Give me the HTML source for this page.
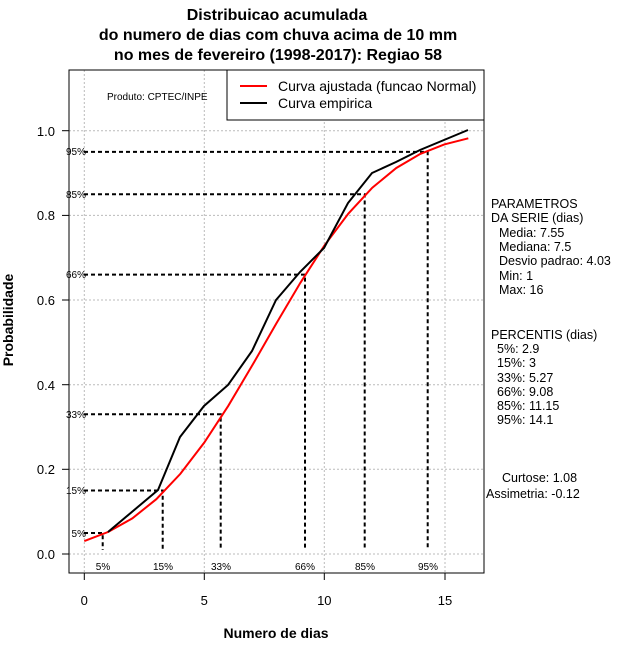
<!DOCTYPE html>
<html><head><style>body{margin:0;background:#fff}svg{display:block}</style></head><body>
<svg width="640" height="660" xmlns="http://www.w3.org/2000/svg" font-family="Liberation Sans, sans-serif">
<rect width="640" height="660" fill="#fff"/>
<g font-weight="bold" font-size="16" text-anchor="middle">
<text x="277" y="20">Distribuicao acumulada</text>
<text x="278" y="40">do numero de dias com chuva acima de 10 mm</text>
<text x="278" y="60">no mes de fevereiro (1998-2017): Regiao 58</text>
<text x="276" y="638" font-size="14">Numero de dias</text>
<text transform="translate(13,320) rotate(-90)" font-size="14">Probabilidade</text>
</g>
<g stroke="#bbb" stroke-dasharray="2,2" stroke-width="1">
<line x1="84.3" y1="70" x2="84.3" y2="573"/><line x1="204.3" y1="70" x2="204.3" y2="573"/>
<line x1="324.3" y1="70" x2="324.3" y2="573"/><line x1="445" y1="70" x2="445" y2="573"/>
<line x1="69" y1="554" x2="484" y2="554"/><line x1="69" y1="469.3" x2="484" y2="469.3"/>
<line x1="69" y1="384.7" x2="484" y2="384.7"/><line x1="69" y1="300" x2="484" y2="300"/>
<line x1="69" y1="215.4" x2="484" y2="215.4"/><line x1="69" y1="130.7" x2="484" y2="130.7"/>
</g>
<rect x="69" y="70" width="415" height="503" fill="none" stroke="#000"/>
<g stroke="#000">
<line x1="62" y1="554" x2="69" y2="554"/><line x1="62" y1="469.3" x2="69" y2="469.3"/>
<line x1="62" y1="384.7" x2="69" y2="384.7"/><line x1="62" y1="300" x2="69" y2="300"/>
<line x1="62" y1="215.4" x2="69" y2="215.4"/><line x1="62" y1="130.7" x2="69" y2="130.7"/>
<line x1="84.3" y1="573" x2="84.3" y2="580"/><line x1="204.3" y1="573" x2="204.3" y2="580"/>
<line x1="324.3" y1="573" x2="324.3" y2="580"/><line x1="445" y1="573" x2="445" y2="580"/>
</g>
<g font-size="13" text-anchor="end">
<text x="55" y="559">0.0</text><text x="55" y="474">0.2</text><text x="55" y="390">0.4</text>
<text x="55" y="305">0.6</text><text x="55" y="220">0.8</text><text x="55" y="136">1.0</text>
</g>
<g font-size="13" text-anchor="middle">
<text x="84.3" y="605">0</text><text x="204.3" y="605">5</text><text x="324.3" y="605">10</text><text x="445" y="605">15</text>
</g>
<g stroke="#000" stroke-width="2" stroke-dasharray="4,3" fill="none">
<polyline points="84,533 102.7,533 102.7,550"/>
<polyline points="84,490.5 162.7,490.5 162.7,550"/>
<polyline points="84,414.3 220.7,414.3 220.7,550"/>
<polyline points="84,274.6 305,274.6 305,550"/>
<polyline points="84,194.2 364.7,194.2 364.7,550"/>
<polyline points="84,151.9 427.7,151.9 427.7,550"/>
</g>
<g font-size="10" fill="#000">
<text x="86" y="537" text-anchor="end">5%</text>
<text x="86" y="494" text-anchor="end">15%</text>
<text x="86" y="418" text-anchor="end">33%</text>
<text x="86" y="278" text-anchor="end">66%</text>
<text x="86" y="198" text-anchor="end">85%</text>
<text x="86" y="155" text-anchor="end">95%</text>
<g text-anchor="middle">
<text x="103" y="570">5%</text><text x="163" y="570">15%</text><text x="221" y="570">33%</text>
<text x="305" y="570">66%</text><text x="365" y="570">85%</text><text x="428" y="570">95%</text>
</g>
</g>
<polyline fill="none" stroke="#f00" stroke-width="2" points="84.3,541.1 108.3,531.9 132.3,518.4 156.3,499.2 180.3,473.9 204.3,442.5 228.3,405.8 252.3,365.3 276.3,323.5 300.3,282.9 324.3,245.7 348.3,213.7 372.3,187.7 396.3,168 420.3,153.9 444.3,144.4 468.3,138.3"/>
<polyline fill="none" stroke="#000" stroke-width="2" points="108,532 158,490 180,437 204,406 228,385 252,351 276,300 300,272 324,248 348,203 372,173 396,162 420,150 468,130"/>
<rect x="227" y="70" width="257" height="50" fill="#fff" stroke="#000"/>
<line x1="240" y1="86" x2="267" y2="86" stroke="#f00" stroke-width="2"/>
<line x1="240" y1="103" x2="267" y2="103" stroke="#000" stroke-width="2"/>
<g font-size="14"><text x="278" y="91">Curva ajustada (funcao Normal)</text><text x="278" y="108">Curva empirica</text></g>
<text x="107" y="100" font-size="10">Produto: CPTEC/INPE</text>
<g font-size="12.5">
<text x="491" y="208">PARAMETROS</text><text x="491" y="222">DA SERIE (dias)</text>
<text x="499" y="237">Media: 7.55</text><text x="499" y="251">Mediana: 7.5</text>
<text x="499" y="265">Desvio padrao: 4.03</text><text x="499" y="280">Min: 1</text>
<text x="499" y="294">Max: 16</text>
<text x="491" y="339">PERCENTIS (dias)</text>
<text x="497" y="353">5%: 2.9</text><text x="497" y="367">15%: 3</text>
<text x="497" y="382">33%: 5.27</text><text x="497" y="396">66%: 9.08</text>
<text x="497" y="410">85%: 11.15</text><text x="497" y="424">95%: 14.1</text>
<text x="502" y="482">Curtose: 1.08</text><text x="486" y="498">Assimetria: -0.12</text>
</g>
</svg>
</body></html>
